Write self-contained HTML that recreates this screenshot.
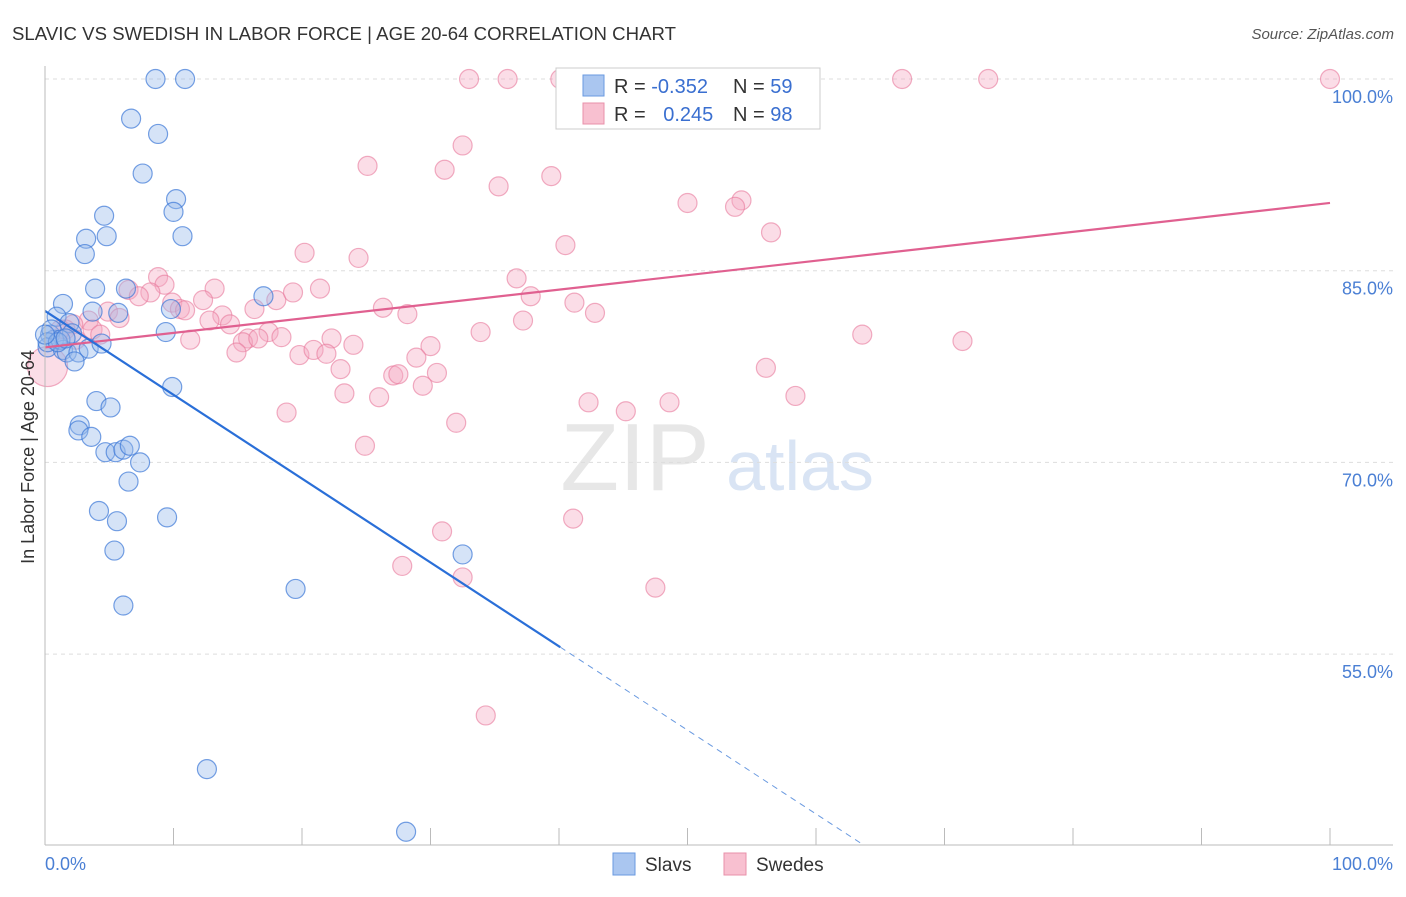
<!DOCTYPE html>
<html><head><meta charset="utf-8"><style>
body{margin:0;background:#fff;font-family:"Liberation Sans",sans-serif;}
svg text{font-family:"Liberation Sans",sans-serif;}
</style></head><body>
<svg id="chart" width="1406" height="892" xmlns="http://www.w3.org/2000/svg">
<text x="12" y="40" font-size="18.6" fill="#333" textLength="664">SLAVIC VS SWEDISH IN LABOR FORCE | AGE 20-64 CORRELATION CHART</text>
<text x="1394" y="39" font-size="15" fill="#555" text-anchor="end" font-style="italic">Source: ZipAtlas.com</text>
<g>
<text x="635" y="490" font-size="96" fill="#ddd" font-family="Liberation Serif" text-anchor="middle" opacity="0.7">ZIP</text>
<text x="800" y="490" font-size="70" fill="#c9daf0" text-anchor="middle" opacity="0.7">atlas</text>
</g>
<g id="grid"></g>
<g id="marks"></g>
<g id="trends"></g>
<line x1="45" y1="66" x2="45" y2="845" stroke="#bbb"/>
<line x1="45" y1="845" x2="1393" y2="845" stroke="#bbb"/>
<text transform="translate(34,457) rotate(-90)" font-size="18" fill="#333" text-anchor="middle">In Labor Force | Age 20-64</text>
<text x="45" y="870" font-size="18" fill="#4a7fd4">0.0%</text>
<text x="1393" y="870" font-size="18" fill="#4a7fd4" text-anchor="end">100.0%</text>
<g>
<rect x="556" y="68" width="264" height="61" fill="#fff" stroke="#ccc"/>
<rect x="583" y="75" width="21" height="21" fill="#aac6f0" stroke="#6a9ae0"/>
<rect x="583" y="103" width="21" height="21" fill="#f8c0d0" stroke="#e890aa"/>
<text x="614" y="93" font-size="20" fill="#333">R = <tspan fill="#3a6fd0">-0.352</tspan></text>
<text x="733" y="93" font-size="20" fill="#333">N = <tspan fill="#3a6fd0">59</tspan></text>
<text x="614" y="121" font-size="20" fill="#333">R = <tspan fill="#3a6fd0" dx="12">0.245</tspan></text>
<text x="733" y="121" font-size="20" fill="#333">N = <tspan fill="#3a6fd0">98</tspan></text>
</g>
<g>
<rect x="613" y="853" width="22" height="22" fill="#aac6f0" stroke="#6a9ae0"/>
<text x="645" y="871" font-size="19" fill="#333">Slavs</text>
<rect x="724" y="853" width="22" height="22" fill="#f8c0d0" stroke="#e890aa"/>
<text x="756" y="871" font-size="19" fill="#333">Swedes</text>
</g>
</svg>
<script>
const yTicks=[100,85,70,55];
const yTickLabels=["100.0%","85.0%","70.0%","55.0%"];
const xTicks=[0,10,20,30,40,50,60,70,80,90,100];
const slavsX=[8.6,10.9,6.7,8.8,7.6,10.2,10.0,4.6,4.8,10.7,3.2,3.1,3.9,6.3,1.4,3.7,5.7,17.0,9.8,9.4,0.9,1.9,2.1,0.4,0.7,0.2,1.4,1.7,2.6,3.4,4.4,2.3,9.9,4.0,5.1,2.7,2.6,3.6,4.7,5.5,6.1,6.6,7.4,6.5,4.2,5.6,9.5,5.4,32.5,19.5,6.1,12.6,28.1,0.5,1.2,0.2,1.0,1.6,0];
const slavsY=[100,100,96.9,95.7,92.6,90.6,89.6,89.3,87.7,87.7,87.5,86.3,83.6,83.6,82.4,81.8,81.7,83.0,82.0,80.2,81.4,80.9,80.1,80.0,79.6,79.0,78.8,78.6,78.6,78.9,79.3,77.9,75.9,74.8,74.3,72.9,72.5,72.0,70.8,70.8,71.0,71.3,70.0,68.5,66.2,65.4,65.7,63.1,62.8,60.1,58.8,46.0,41.1,80.4,79.6,79.4,79.4,79.7,80.0];
const swedesX=[33.0,36.0,40.1,47.6,66.7,73.4,100,32.5,25.1,31.1,39.4,35.3,50.0,54.2,53.7,56.5,40.5,20.2,24.4,36.7,8.8,9.3,6.5,8.2,7.3,13.2,18.0,19.3,21.4,37.8,41.2,12.3,16.3,9.9,10.5,10.9,26.3,28.2,42.8,37.2,4.9,3.4,5.8,2.2,1.6,3.7,13.8,12.8,14.4,17.4,15.8,18.4,15.4,16.6,22.3,33.9,11.3,63.6,71.4,24.0,14.9,19.8,20.9,21.9,30.0,28.9,23.0,27.1,27.5,30.5,29.4,26.0,23.3,56.1,42.3,45.2,48.6,58.4,18.8,32.0,24.9,30.9,41.1,27.8,32.5,47.5,34.3,1.2,2.4,4.3,0.2];
const swedesY=[100,100,100,100,100,100,100,94.8,93.2,92.9,92.4,91.6,90.3,90.5,90.0,88.0,87.0,86.4,86.0,84.4,84.5,83.9,83.5,83.3,83.0,83.6,82.7,83.3,83.6,83.0,82.5,82.7,82.0,82.5,82.0,81.9,82.1,81.6,81.7,81.1,81.8,81.1,81.3,80.8,80.4,80.4,81.5,81.1,80.8,80.2,79.7,79.8,79.4,79.7,79.7,80.2,79.6,80.0,79.5,79.2,78.6,78.4,78.8,78.5,79.1,78.2,77.3,76.8,76.9,77.0,76.0,75.1,75.4,77.4,74.7,74.0,74.7,75.2,73.9,73.1,71.3,64.6,65.6,61.9,61.0,60.2,50.2,80.4,79.6,80.0,77.5];
const swedesBig=[90];
const slavsTrend=[81.85,-0.656];
const swedesTrend=[79.0,0.113];
const NS="http://www.w3.org/2000/svg";
const X=v=>45+v*12.85, Y=v=>79+(100-v)*12.78;
function mk(t,a,p){const e=document.createElementNS(NS,t);for(const k in a)e.setAttribute(k,a[k]);p.appendChild(e);return e;}
const grid=document.getElementById('grid');
yTicks.forEach((t,i)=>{
 const l=mk('line',{x1:45,x2:1393,y1:Y(t),y2:Y(t),stroke:'#ddd','stroke-dasharray':'4,4'},grid);
 
 
 const tx=mk('text',{x:1393,y:Y(t)+24,'font-size':18,fill:'#4a7fd4','text-anchor':'end'},grid);
 tx.textContent=yTickLabels[i];
 
 
});
xTicks.forEach(t=>{
 const l=mk('line',{x1:X(t),x2:X(t),y1:828,y2:845,stroke:'#bbb'},grid);
 
 
});
const marks=document.getElementById('marks');
swedesX.forEach((x,i)=>{
 const c=mk('circle',{cx:X(x),cy:Y(swedesY[i]),r:swedesBig.includes(i)?20:9.5,fill:'rgba(246,170,195,0.4)',stroke:'rgba(232,120,155,0.6)','stroke-width':1.2},marks);
 
 
});
slavsX.forEach((x,i)=>{
 const c=mk('circle',{cx:X(x),cy:Y(slavsY[i]),r:9.5,fill:'rgba(150,185,235,0.4)',stroke:'rgba(60,120,215,0.7)','stroke-width':1.2},marks);
 
 
});
const tr=document.getElementById('trends');
let l=mk('line',{x1:X(0),y1:Y(swedesTrend[0]),x2:X(100),y2:Y(swedesTrend[0]+100*swedesTrend[1]),stroke:'#e06090','stroke-width':2.2},tr);


const xs=40.1, yEnd=40.06, xe=(yEnd-slavsTrend[0])/slavsTrend[1];
l=mk('line',{x1:X(0),y1:Y(slavsTrend[0]),x2:X(xs),y2:Y(slavsTrend[0]+xs*slavsTrend[1]),stroke:'#2a6fd8','stroke-width':2.2},tr);


l=mk('line',{x1:X(xs),y1:Y(slavsTrend[0]+xs*slavsTrend[1]),x2:X(xe),y2:Y(yEnd),stroke:'#6a9ae0','stroke-width':1,'stroke-dasharray':'6,5'},tr);


</script>
</body></html>
